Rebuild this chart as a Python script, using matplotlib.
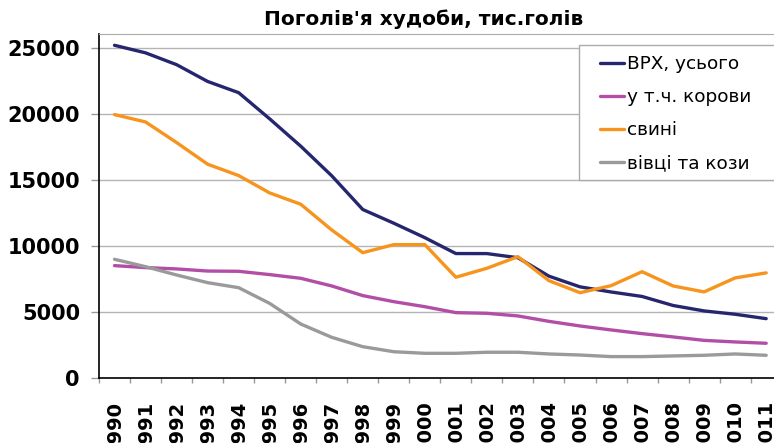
import matplotlib
matplotlib.use("Agg")
import matplotlib.pyplot as plt
from matplotlib.patches import Rectangle
import numpy as np

years = [str(y) for y in range(1990, 2012)]

cattle = [25195, 24623, 23728, 22457, 21607, 19624, 17557, 15313, 12759, 11722, 10627,
          9424, 9421, 9108, 7712, 6903, 6515, 6175, 5491, 5079, 4827, 4494]
cows = [8510, 8360, 8260, 8100, 8080, 7830, 7550, 6970, 6240, 5780, 5400,
        4950, 4900, 4700, 4290, 3940, 3640, 3360, 3110, 2850, 2730, 2630]
pigs = [19947, 19390, 17830, 16190, 15330, 14015, 13160, 11210, 9490, 10100, 10100,
        7630, 8310, 9190, 7370, 6460, 6990, 8050, 6970, 6520, 7580, 7960]
sheep = [8990, 8430, 7800, 7220, 6840, 5650, 4090, 3080, 2370, 1990, 1870,
         1870, 1950, 1950, 1820, 1740, 1620, 1620, 1670, 1720, 1820, 1720]

labels = ["ВРХ, усього", "у т.ч. корови", "свині", "вівці та кози"]
colors = ["#26266e", "#b24ea6", "#f7941d", "#9a9a9a"]

plt.rcParams['font.family'] = ['DejaVu Sans']

fig = plt.figure(figsize=(7.74, 4.43), dpi=100)
W, H = 774, 443
px = 0.72  # points per pixel at 100 dpi
left, right, top, bottom = 99, 781.7, 34, 378
ax = fig.add_axes([left / W, 1 - bottom / H, (right - left) / W, (bottom - top) / H])

x = np.arange(len(years))
for vals, lab, col in zip([cattle, cows, pigs, sheep], labels, colors):
    ax.plot(x, vals, color=col, lw=2.4, label=lab, solid_capstyle='round')

ax.set_xlim(-0.5, len(years) - 0.5)
ax.set_ylim(0, 26050)
ax.set_yticks(range(0, 25001, 5000))
ax.yaxis.grid(True, color='#b4b4b4', lw=1)
ax.set_axisbelow(True)

ax.set_xticks(x)
ax.set_xticklabels(years, rotation=90, fontsize=14, fontweight='bold')
ax.set_xticks(np.arange(-0.5, len(years), 1), minor=True)
ax.tick_params(axis='x', which='major', length=0, pad=22 * px)
ax.tick_params(axis='x', which='minor', length=5 * px, color='#999999', width=1)
ax.tick_params(axis='y', length=8 * px, color='#999999', width=1, pad=11 * px)
for t in ax.get_yticklabels():
    t.set_fontsize(15)
    t.set_fontweight('bold')

ax.spines['right'].set_visible(False)
ax.spines['top'].set_color('#aaaaaa')
ax.spines['left'].set_color('black')
ax.spines['bottom'].set_color('black')
ax.spines['left'].set_linewidth(1.2)
ax.spines['bottom'].set_linewidth(1.2)

fig.text(424 / W, 1 - 19 / H, "Поголів'я худоби, тис.голів", ha='center', va='center',
         fontsize=14.5, fontweight='bold')

# legend box drawn separately so the entries can sit further in
ax.add_patch(Rectangle((579 / W, 1 - 180 / H), 210 / W, 135 / H,
                       transform=fig.transFigure, facecolor='white',
                       edgecolor='#aaaaaa', lw=1, zorder=4, clip_on=False))
leg = ax.legend(loc='upper left', bbox_to_anchor=(600 / W, 1 - 55 / H),
                bbox_transform=fig.transFigure, borderaxespad=0, borderpad=0,
                fontsize=13.3, handlelength=1.3, handletextpad=0.15,
                labelspacing=0.82, frameon=False)
leg.set_zorder(5)

fig.savefig("out.png", dpi=100)
